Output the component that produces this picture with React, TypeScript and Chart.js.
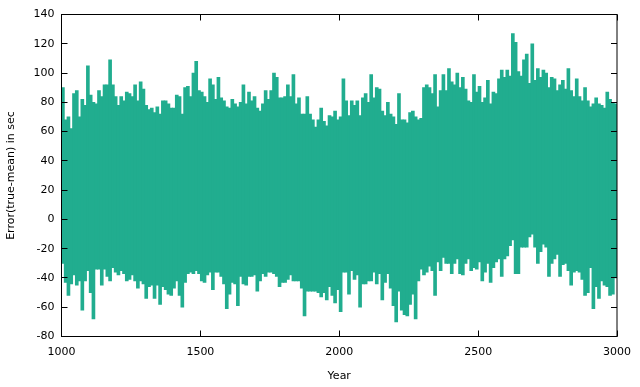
import React, { useEffect, useRef } from "react";
import { Chart, registerables } from "chart.js";

Chart.register(...registerables);

// First year of the chart and width (years) of each sampled column
const firstYear = 1000;
const columnYears = 10;

// Upper extent of the error band for each 10-year column, 1000..2990 (sec)
const upperError = [
  90, 68, 70, 62, 86, 88, 70, 82, 78, 105,
  85, 80, 79, 88, 84, 92, 92, 109, 92, 84,
  78, 84, 81, 87, 86, 84, 92, 81, 94, 89,
  78, 75, 76, 73, 77, 72, 81, 81, 79, 76,
  76, 85, 84, 72, 90, 91, 84, 100, 108, 88,
  87, 84, 80, 96, 92, 82, 97, 83, 81, 77,
  76, 82, 79, 77, 80, 92, 79, 87, 81, 84,
  76, 74, 79, 88, 82, 88, 100, 97, 83, 83,
  84, 92, 84, 99, 79, 83, 72, 72, 84, 72,
  68, 63, 68, 76, 67, 64, 71, 70, 74, 68,
  70, 96, 81, 71, 81, 78, 81, 71, 83, 86,
  80, 99, 83, 90, 89, 74, 71, 80, 72, 70,
  65, 86, 68, 68, 66, 73, 74, 70, 68, 69,
  90, 92, 90, 86, 99, 77, 88, 99, 88, 103,
  94, 92, 100, 90, 97, 89, 81, 80, 99, 87,
  91, 80, 83, 95, 79, 87, 86, 96, 102, 97,
  102, 98, 127, 121, 101, 98, 109, 113, 93, 120,
  95, 103, 97, 102, 100, 90, 97, 96, 88, 92,
  95, 89, 103, 88, 84, 96, 84, 81, 90, 81,
  77, 79, 83, 79, 78, 76, 87, 82, 80, 79,
];

// Lower extent of the error band for each 10-year column, 1000..2990 (sec)
const lowerError = [
  -30, -43, -52, -44, -38, -45, -42, -62, -42, -35,
  -50, -68, -34, -34, -45, -34, -39, -42, -33, -36,
  -38, -35, -37, -42, -41, -38, -42, -47, -42, -44,
  -54, -46, -45, -54, -45, -58, -46, -48, -51, -52,
  -47, -42, -52, -60, -43, -37, -36, -37, -35, -37,
  -42, -43, -38, -36, -48, -36, -36, -39, -44, -61,
  -51, -43, -44, -59, -39, -44, -45, -39, -39, -38,
  -49, -42, -37, -39, -36, -36, -37, -39, -46, -43,
  -43, -41, -38, -42, -42, -42, -47, -66, -49, -49,
  -49, -49, -50, -53, -50, -55, -46, -52, -57, -48,
  -63, -36, -36, -51, -35, -41, -38, -60, -44, -44,
  -42, -42, -36, -44, -37, -55, -43, -37, -47, -59,
  -70, -49, -62, -65, -66, -58, -51, -68, -42, -34,
  -38, -36, -32, -35, -52, -29, -35, -26, -30, -30,
  -37, -30, -27, -37, -38, -30, -27, -35, -33, -34,
  -29, -42, -36, -30, -43, -33, -29, -27, -39, -27,
  -25, -18, -14, -37, -37, -19, -19, -19, -12, -10,
  -19, -30, -22, -17, -19, -39, -30, -27, -24, -39,
  -31, -30, -35, -45, -36, -35, -36, -41, -52, -50,
  -33, -61, -46, -54, -42, -45, -46, -52, -51, -40,
];

// Axis ranges / ticks
const xMin = 1000;
const xMax = 3000;
const xStep = 500;
const yMin = -80;
const yMax = 140;
const yStep = 20;

const COLOR = "#21ad8f";
const FONT = "'DejaVu Sans', sans-serif";

const frameTicks = {
  id: "frameTicks",
  afterDatasetsDraw(chart: any) {
    const { ctx, chartArea, scales } = chart;
    const { left, right, top, bottom } = chartArea;
    const len = 6;
    ctx.save();
    ctx.strokeStyle = "#000";
    ctx.lineWidth = 1;
    ctx.beginPath();
    for (let v = xMin; v <= xMax; v += xStep) {
      const px = Math.round(scales.x.getPixelForValue(v) - 0.5) + 0.5;
      ctx.moveTo(px, bottom);
      ctx.lineTo(px, bottom - len);
      ctx.moveTo(px, top);
      ctx.lineTo(px, top + len);
    }
    for (let v = yMin; v <= yMax; v += yStep) {
      const py = Math.round(scales.y.getPixelForValue(v) - 0.5) + 0.5;
      ctx.moveTo(left, py);
      ctx.lineTo(left + len, py);
      ctx.moveTo(right, py);
      ctx.lineTo(right - len, py);
    }
    ctx.stroke();
    ctx.strokeRect(left, top, right - left, bottom - top);
    ctx.restore();
  },
};

export default function App() {
  const canvasRef = useRef<HTMLCanvasElement | null>(null);

  useEffect(() => {
    if (!canvasRef.current) return;
    const points = upperError.map((hi, i) => ({
      x: firstYear + i * columnYears + columnYears / 2,
      y: [lowerError[i], hi],
    }));
    const chart = new Chart(canvasRef.current, {
      type: "bar",
      data: {
        datasets: [
          {
            data: points as any,
            backgroundColor: COLOR,
            borderWidth: 0,
            barThickness: 3,
          },
        ],
      },
      options: {
        responsive: false,
        animation: false,
        events: [],
        layout: { padding: { top: 14.5, right: 20.5, left: 0, bottom: 0 } },
        plugins: { legend: { display: false }, tooltip: { enabled: false } },
        scales: {
          x: {
            type: "linear",
            min: xMin,
            max: xMax,
            offset: false,
            grid: { display: false, drawTicks: false },
            border: { display: false },
            ticks: {
              stepSize: xStep,
              color: "#000",
              padding: 9,
              maxRotation: 0,
              font: { family: FONT, size: 11 },
              callback: (v: any) => String(v),
            },
            title: {
              display: true,
              text: "Year",
              color: "#000",
              padding: { top: 0, bottom: 4 },
              font: { family: FONT, size: 11 },
            },
            afterFit: (s: any) => {
              s.height = 50.5;
            },
          },
          y: {
            min: yMin,
            max: yMax,
            grid: { display: false, drawTicks: false },
            border: { display: false },
            ticks: {
              stepSize: yStep,
              color: "#000",
              padding: 7,
              font: { family: FONT, size: 11 },
              callback: (v: any) => String(v),
            },
            title: {
              display: true,
              text: "Error(true-mean) in sec",
              color: "#000",
              padding: { top: 5, bottom: 0 },
              font: { family: FONT, size: 11 },
            },
            afterFit: (s: any) => {
              s.width = 61.5;
            },
          },
        },
      },
      plugins: [frameTicks],
    });
    return () => chart.destroy();
  }, []);

  return (
    <div style={{ position: "absolute", left: 0, top: 0, width: 640, height: 387, background: "#fff" }}>
      <canvas ref={canvasRef} width={640} height={387} style={{ display: "block" }} />
    </div>
  );
}
